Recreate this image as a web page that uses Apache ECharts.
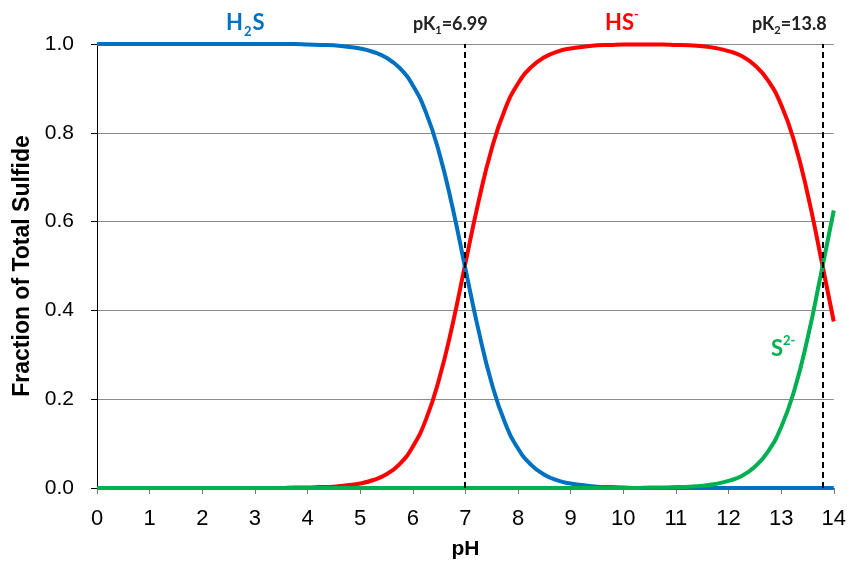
<!DOCTYPE html>
<html>
<head>
<meta charset="utf-8">
<script src="https://cdn.jsdelivr.net/npm/echarts@6/dist/echarts.min.js"></script>
<style>
  html, body { margin: 0; padding: 0; background: #fff; }
  #main { width: 849px; height: 565px; }
</style>
</head>
<body>
<div id="main"></div>
<script>
// pH values, step 0.25
const ph = [
  0, 0.25, 0.5, 0.75, 1, 1.25, 1.5, 1.75, 2, 2.25, 2.5, 2.75, 3, 3.25, 3.5, 3.75,
  4, 4.25, 4.5, 4.75, 5, 5.25, 5.5, 5.75, 6, 6.25, 6.5, 6.75, 7, 7.25, 7.5, 7.75,
  8, 8.25, 8.5, 8.75, 9, 9.25, 9.5, 9.75, 10, 10.25, 10.5, 10.75, 11, 11.25, 11.5, 11.75,
  12, 12.25, 12.5, 12.75, 13, 13.25, 13.5, 13.75, 14
];
// fraction
const h2s = [
  1, 1, 1, 1, 1, 1, 1, 1, 1, 1, 1, 1, 1, 1, 1, 1,
  0.999, 0.998, 0.997, 0.994, 0.990, 0.982, 0.969, 0.946, 0.907, 0.846, 0.756, 0.635, 0.494, 0.355, 0.236, 0.148,
  0.089, 0.052, 0.030, 0.017, 0.010, 0.006, 0.003, 0.002, 0.001, 0, 0, 0, 0, 0, 0, 0,
  0, 0, 0, 0, 0, 0, 0, 0, 0
];
const hs = [
  0, 0, 0, 0, 0, 0, 0, 0, 0, 0, 0, 0, 0, 0, 0, 0.001,
  0.001, 0.002, 0.003, 0.006, 0.010, 0.018, 0.031, 0.054, 0.093, 0.154, 0.245, 0.365, 0.506, 0.645, 0.764, 0.852,
  0.911, 0.948, 0.970, 0.983, 0.990, 0.994, 0.997, 0.998, 0.999, 0.999, 0.999, 0.999, 0.998, 0.997, 0.995, 0.991,
  0.984, 0.973, 0.952, 0.918, 0.863, 0.780, 0.664, 0.522, 0.375
];
const s2 = [
  0, 0, 0, 0, 0, 0, 0, 0, 0, 0, 0, 0, 0, 0, 0, 0,
  0, 0, 0, 0, 0, 0, 0, 0, 0, 0, 0, 0, 0, 0, 0, 0,
  0, 0, 0, 0, 0, 0, 0, 0, 0, 0, 0.001, 0.001, 0.002, 0.003, 0.005, 0.009,
  0.016, 0.027, 0.048, 0.082, 0.137, 0.220, 0.336, 0.478, 0.625
];
const pkLines = [6.99, 13.8];

const pairs = (ys) => ph.map((x, i) => [x, ys[i]]);

const chart = echarts.init(document.getElementById('main'));
const lab = { fontFamily: 'Lato, sans-serif', fontWeight: 'bold' };
const axisFont = 'Liberation Sans, Arial, sans-serif';

chart.setOption({
  animation: false,
  grid: { left: 97, right: 12, top: 44, bottom: 77 },
  xAxis: {
    type: 'value', min: 0, max: 14, interval: 1,
    name: 'pH', nameLocation: 'middle', nameGap: 51,
    nameTextStyle: { fontFamily: axisFont, fontWeight: 'bold', fontSize: 21, color: '#000' },
    axisLine: { lineStyle: { color: '#000', width: 1 } },
    axisTick: { length: 6, lineStyle: { color: '#777' } },
    axisLabel: { fontFamily: axisFont, fontSize: 22, color: '#000', margin: 20 },
    splitLine: { show: false }
  },
  yAxis: {
    type: 'value', min: 0, max: 1, interval: 0.2,
    name: 'Fraction of Total Sulfide', nameLocation: 'middle', nameGap: 62,
    nameTextStyle: { fontFamily: axisFont, fontWeight: 'bold', fontSize: 23, color: '#000' },
    axisLine: { show: true, lineStyle: { color: '#000', width: 1 } },
    axisTick: { show: true, length: 6, lineStyle: { color: '#000' } },
    axisLabel: { fontFamily: axisFont, fontSize: 21, color: '#000', margin: 23,
      formatter: (v) => v.toFixed(1) },
    splitLine: { lineStyle: { color: '#8c8c8c', width: 1 } }
  },
  series: [
    { name: 'HS-', type: 'line', data: pairs(hs), smooth: 0.5, showSymbol: false,
      lineStyle: { color: '#ff0000', width: 4 } },
    { name: 'H2S', type: 'line', data: pairs(h2s), smooth: 0.5, showSymbol: false,
      lineStyle: { color: '#0070c0', width: 4 } },
    { name: 'S2-', type: 'line', data: pairs(s2), smooth: 0.5, showSymbol: false,
      lineStyle: { color: '#00b050', width: 4 },
      markLine: {
        silent: true, symbol: 'none', label: { show: false },
        lineStyle: { color: '#000', type: [6, 4], width: 2 },
        data: pkLines.map((v) => ({ xAxis: v }))
      } }
  ],
  graphic: [
    { type: 'text', left: 226, top: 12, style: { text: '{a|H}{b|2}{a|S}',
      rich: { a: { ...lab, fontSize: 22, fill: '#0070c0', lineHeight: 26, verticalAlign: 'bottom' },
              b: { ...lab, fontSize: 13, fill: '#0070c0', lineHeight: 26, verticalAlign: 'bottom', padding: [0, 1, -4, 1] } } } },
    { type: 'text', left: 605, top: 8, style: { text: '{a|HS}{b|-}',
      rich: { a: { ...lab, fontSize: 22, fill: '#ff0000', lineHeight: 26, verticalAlign: 'bottom' },
              b: { ...lab, fontSize: 13, fill: '#ff0000', lineHeight: 26, verticalAlign: 'top' } } } },
    { type: 'text', left: 771, top: 334, style: { text: '{a|S}{b|2-}',
      rich: { a: { ...lab, fontSize: 22, fill: '#00b050', lineHeight: 26, verticalAlign: 'bottom' },
              b: { ...lab, fontSize: 13, fill: '#00b050', lineHeight: 26, verticalAlign: 'top' } } } },
    { type: 'text', left: 413, top: 15, style: { text: '{a|pK}{b|1}{a|=6.99}',
      rich: { a: { ...lab, fontSize: 18, fill: '#222', lineHeight: 22, verticalAlign: 'bottom' },
              b: { ...lab, fontSize: 11, fill: '#222', lineHeight: 22, verticalAlign: 'bottom', padding: [0, 0, -3, 0] } } } },
    { type: 'text', left: 752, top: 15, style: { text: '{a|pK}{b|2}{a|=13.8}',
      rich: { a: { ...lab, fontSize: 18, fill: '#222', lineHeight: 22, verticalAlign: 'bottom' },
              b: { ...lab, fontSize: 11, fill: '#222', lineHeight: 22, verticalAlign: 'bottom', padding: [0, 0, -3, 0] } } } }
  ]
});
</script>
</body>
</html>
